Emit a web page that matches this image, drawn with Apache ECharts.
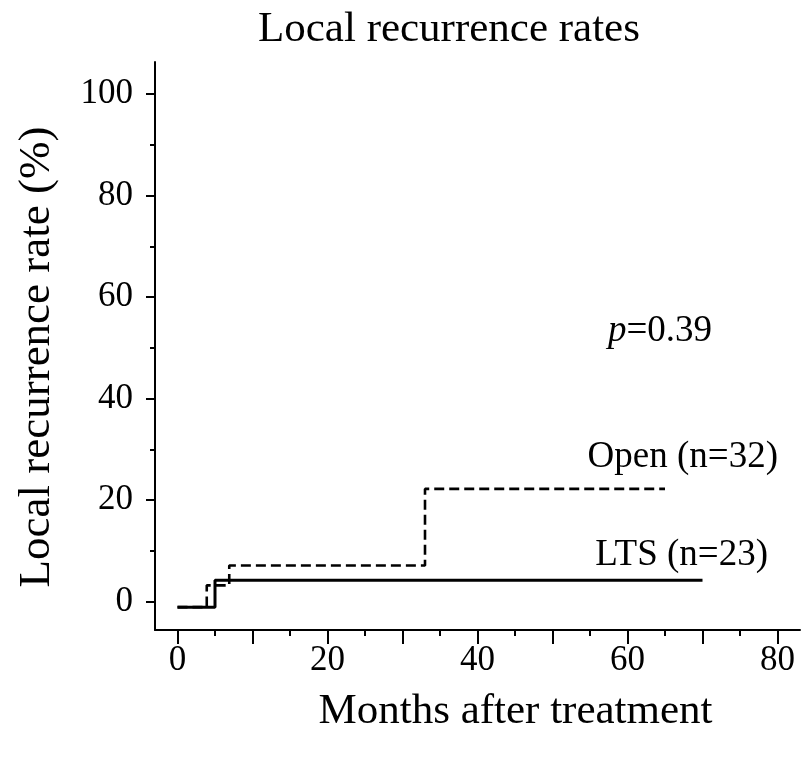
<!DOCTYPE html>
<html>
<head>
<meta charset="utf-8">
<script src="https://cdn.jsdelivr.net/npm/echarts@6/dist/echarts.min.js"></script>
<style>html,body{margin:0;padding:0;background:#fff}#c{width:808px;height:757px}</style>
</head>
<body>
<div id="c"></div>
<script>
// Data (months, recurrence %)
const ltsSteps = [[0, -1.1], [5, -1.1], [5, 4.2], [70, 4.2]];
const openSteps = [[0, -1.1], [3.9, -1.1], [3.9, 3.2], [6.9, 3.2], [6.9, 7.1], [33, 7.1], [33, 22.2], [65, 22.2]];
const xMajorTicks = [0, 10, 20, 30, 40, 50, 60, 70, 80];
const xMinorTicks = [5, 15, 25, 35, 45, 55, 65, 75];
const xLabels = [0, 20, 40, 60, 80];
const yMajorTicks = [0, 20, 40, 60, 80, 100];
const yMinorTicks = [10, 30, 50, 70, 90];
const seriesNames = ['LTS (n=23)', 'Open (n=32)'];

const FONT = 'Liberation Serif';
const chart = echarts.init(document.getElementById('c'));
const xRange = {min: -3, max: 83};
const yRange = {min: -5.6, max: 106.3};
const lineStyle = {color: '#000', width: 2};

chart.setOption({
  backgroundColor: '#fff',
  animation: false,
  title: {
    text: 'Local recurrence rates',
    left: 253, top: 3,
    textStyle: {fontFamily: FONT, fontSize: 43, fontWeight: 'normal', color: '#000'}
  },
  grid: {left: 155, right: 8, top: 62, bottom: 127},
  xAxis: [{
    type: 'value', ...xRange, position: 'bottom',
    name: 'Months after treatment', nameLocation: 'middle', nameGap: 60,
    nameTextStyle: {fontFamily: FONT, fontSize: 43, color: '#000', padding: [0, 0, 0, 76]},
    axisLine: {show: true, onZero: false, lineStyle},
    axisTick: {show: true, customValues: xMajorTicks, length: 14, lineStyle},
    axisLabel: {show: true, customValues: xLabels, margin: 13, fontFamily: FONT, fontSize: 35, color: '#000'},
    splitLine: {show: false}
  }, {
    type: 'value', ...xRange, position: 'bottom',
    axisLine: {show: false, onZero: false},
    axisTick: {show: true, customValues: xMinorTicks, length: 6, lineStyle},
    axisLabel: {show: false},
    splitLine: {show: false}
  }],
  yAxis: [{
    type: 'value', ...yRange, position: 'left',
    name: 'Local recurrence rate (%)', nameLocation: 'middle', nameGap: 95,
    nameTextStyle: {fontFamily: FONT, fontSize: 45, color: '#000', padding: [0, 22, 0, 0]},
    axisLine: {show: true, onZero: false, lineStyle},
    axisTick: {show: true, customValues: yMajorTicks, length: 9, lineStyle},
    axisLabel: {show: true, customValues: yMajorTicks, margin: 22, fontFamily: FONT, fontSize: 35, color: '#000'},
    splitLine: {show: false}
  }, {
    type: 'value', ...yRange, position: 'left',
    axisLine: {show: false, onZero: false},
    axisTick: {show: true, customValues: yMinorTicks, length: 5, lineStyle},
    axisLabel: {show: false},
    splitLine: {show: false}
  }],
  series: [{
    name: seriesNames[0], type: 'line', data: ltsSteps, symbol: 'none',
    xAxisIndex: 0, yAxisIndex: 0,
    lineStyle: {color: '#000', width: 3, type: 'solid'}
  }, {
    name: seriesNames[1], type: 'line', data: openSteps, symbol: 'none',
    xAxisIndex: 0, yAxisIndex: 0,
    lineStyle: {color: '#000', width: 2.6, type: [10, 5]}
  }],
  graphic: [
    {type: 'text', right: 30, top: 439, style: {text: seriesNames[1], font: '37px "Liberation Serif"', fill: '#000'}},
    {type: 'text', right: 40, top: 537, style: {text: seriesNames[0], font: '37px "Liberation Serif"', fill: '#000'}},
    {type: 'text', left: 608, top: 313, style: {
      text: '{i|p}=0.39', font: '37px "Liberation Serif"', fill: '#000',
      rich: {i: {fontStyle: 'italic', fontFamily: FONT, fontSize: 37}}
    }}
  ]
});
</script>
</body>
</html>
